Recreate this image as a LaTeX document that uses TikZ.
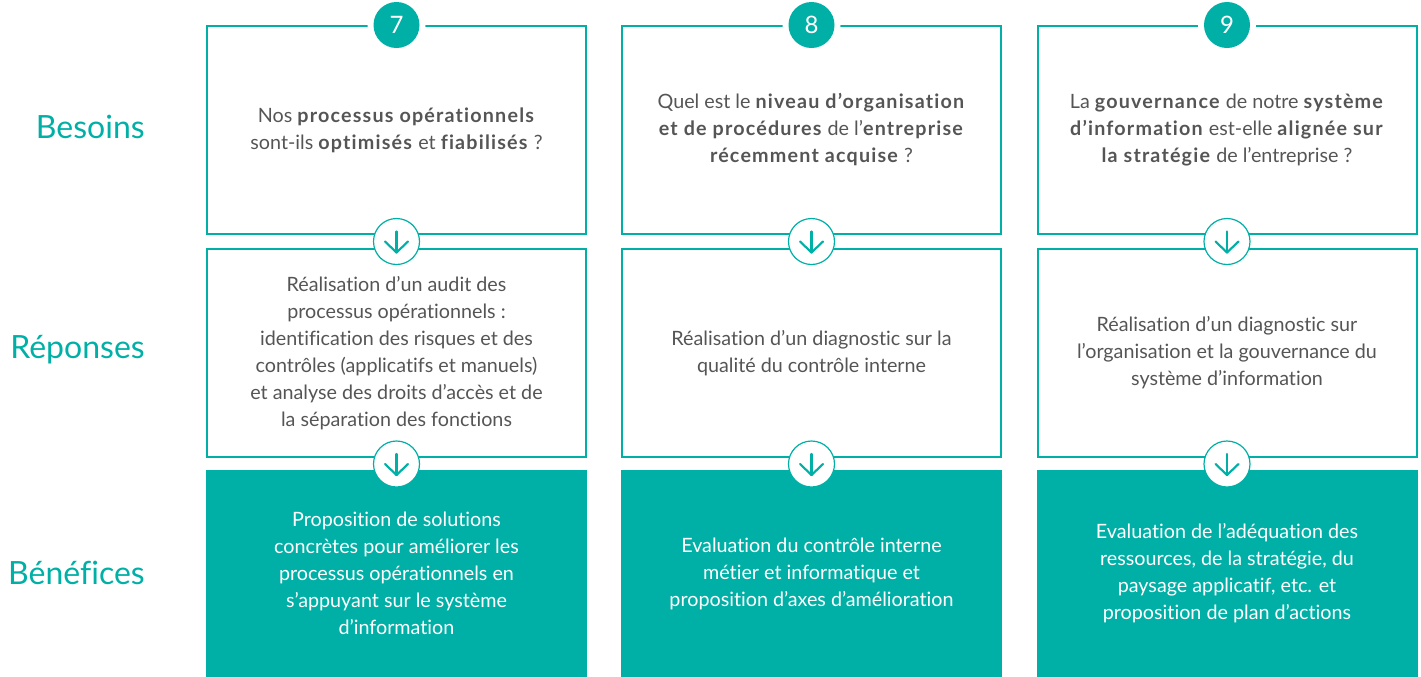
\documentclass[tikz,border=0pt]{standalone}
\usepackage{fontspec}
\setmainfont{Lato}[Ligatures=NoCommon, BoldFeatures={LetterSpace=6}]
\definecolor{teal1}{RGB}{0,176,166}
\definecolor{txt}{RGB}{85,85,85}
\begin{document}
\begin{tikzpicture}[x=0.75pt,y=-0.75pt,
  box/.style={draw=teal1, line width=1.5pt, minimum width=284.25pt, minimum height=156pt,
    inner sep=0pt, text=txt, align=center, font=\fontsize{14.8}{20.25}\selectfont},
  benbox/.style={box, fill=teal1, text=white, minimum height=153.75pt},
  numhalo/.style={circle, fill=white, minimum size=43.5pt, inner sep=0pt},
  numcirc/.style={circle, fill=teal1, minimum size=34.5pt, inner sep=0pt, text=white, font=\fontsize{18}{18}\selectfont},
  arrcirc/.style={circle, draw=teal1, line width=0.9pt, fill=white, minimum size=34.5pt, inner sep=0pt},
  arr/.style={draw=teal1, line width=1.6pt, line cap=round, line join=round},
  rowlabel/.style={anchor=east, inner sep=0pt, text=teal1, font=\fontsize{24}{24}\selectfont}
]
\useasboundingbox (0,0) rectangle (1421,676);

% labels
\node[rowlabel] (lb1) at (145,127) {Besoins};
\node[rowlabel] (lb2) at (145,350) {Réponses};
\node[rowlabel] (lb3) at (145,573) {Bénéfices};

% row 1
\node[box] (b1) at (396.5,130) {Nos \textbf{processus opérationnels}\\ sont-ils \textbf{optimisés} et \textbf{fiabilisés} ?};
\node[box] (b2) at (811.5,130) {Quel est le \textbf{niveau d’organisation}\\ \textbf{et de procédures} de l’\textbf{entreprise}\\ \textbf{récemment acquise} ?};
\node[box] (b3) at (1227,130) {La \textbf{gouvernance} de notre \textbf{système}\\ \textbf{d’information} est-elle \textbf{alignée sur}\\ \textbf{la stratégie} de l’entreprise ?};

% row 2
\node[box] (r1) at (396.5,353) {Réalisation d’un audit des\\ processus opérationnels :\\ identification des risques et des\\ contrôles (applicatifs et manuels)\\ et analyse des droits d’accès et de\\ la séparation des fonctions};
\node[box] (r2) at (811.5,353) {Réalisation d’un diagnostic sur la\\ qualité du contrôle interne};
\node[box] (r3) at (1227,353) {Réalisation d’un diagnostic sur\\ l’organisation et la gouvernance du\\ système d’information};

% row 3
\node[benbox] (f1) at (396.5,573.5) {Proposition de solutions\\ concrètes pour améliorer les\\ processus opérationnels en\\ s’appuyant sur le système\\ d’information};
\node[benbox] (f2) at (811.5,573.5) {Evaluation du contrôle interne\\ métier et informatique et\\ proposition d’axes d’amélioration};
\node[benbox] (f3) at (1227,573.5) {Evaluation de l’adéquation des\\ ressources, de la stratégie, du\\ paysage applicatif, etc. et\\ proposition de plan d’actions};

% number circles
\foreach \n/\x/\t in {n1/396.5/7, n2/811.5/8, n3/1227/9}{
  \node[numhalo] (\n h) at (\x,25) {};
  \node[numcirc] (\n) at (\x,25) {\t};
}

% arrow circles
\foreach \n/\x/\y in {a1/396.5/241.5, a2/811.5/241.5, a3/1227/241.5, c1/396.5/464, c2/811.5/464, c3/1227/464}{
  \node[arrcirc] (\n) at (\x,\y) {};
  \draw[arr] (\n.center) ++(0,-10) -- ++(0,21);
  \draw[arr] (\n.center) ++(-11.5,0) -- ++(11.5,11) -- ++(11.5,-11);
}
\end{tikzpicture}
\end{document}
